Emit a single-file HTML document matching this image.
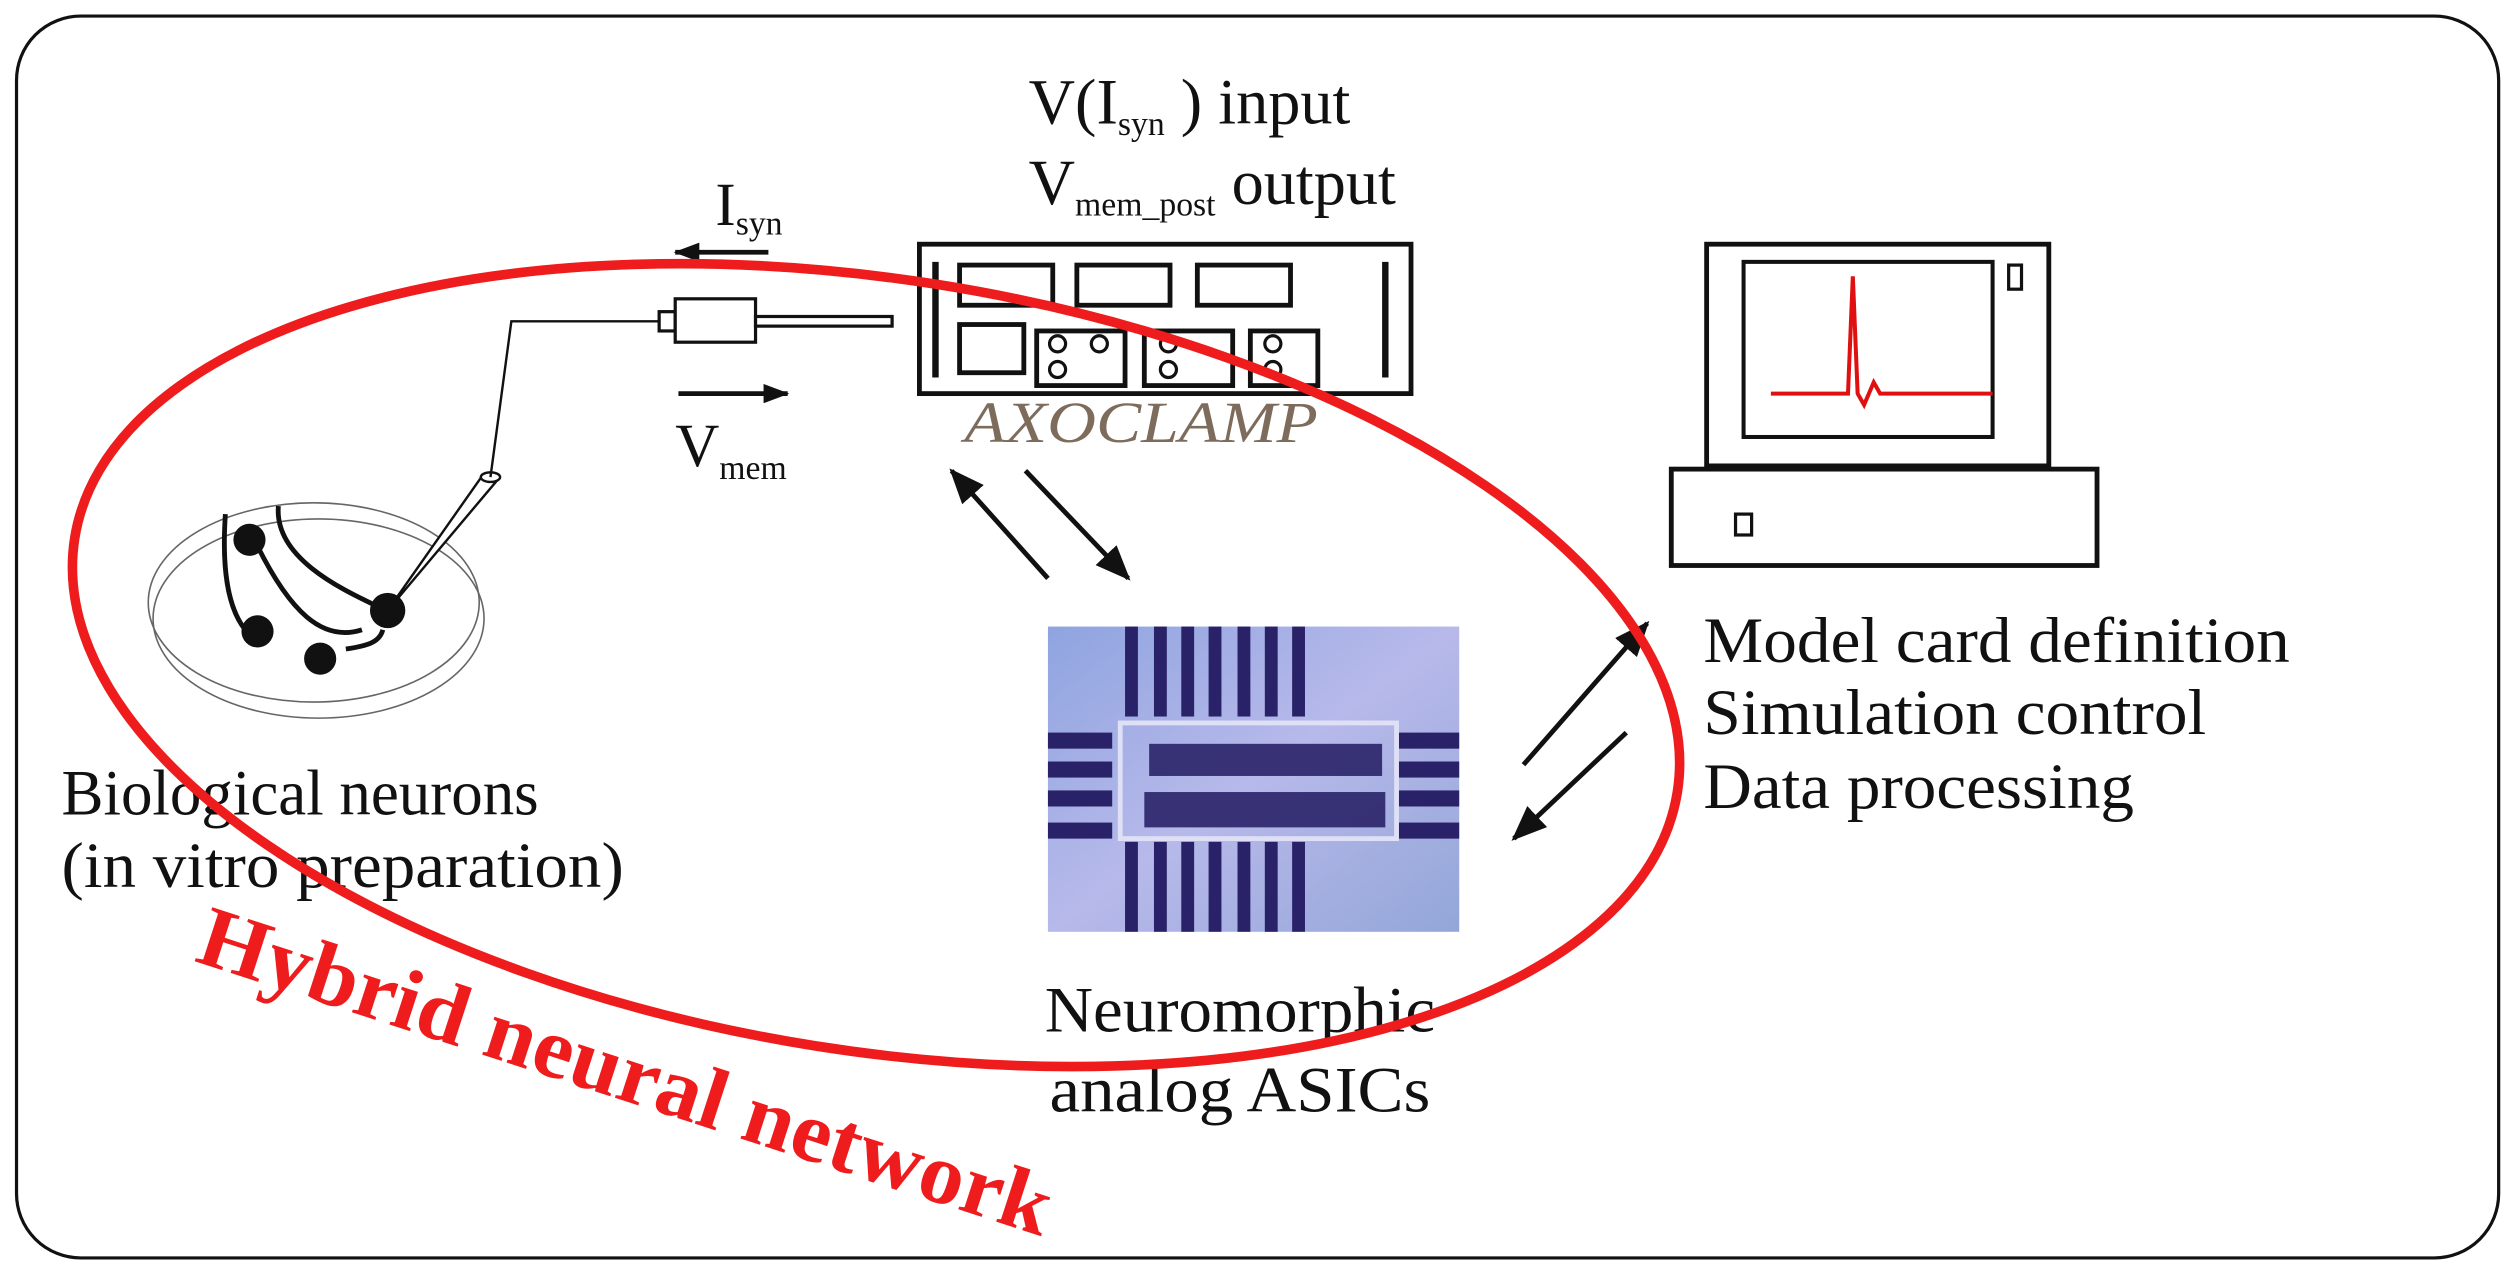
<!DOCTYPE html>
<html><head><meta charset="utf-8"><style>
html,body{margin:0;padding:0;background:#fff;}
svg{display:block;}
text{font-family:"Liberation Serif",serif;fill:#111;}
</style></head><body>
<svg width="2520" height="1274" viewBox="0 0 1568 793" xmlns="http://www.w3.org/2000/svg">
<defs>
<marker id="am" markerWidth="16" markerHeight="12" refX="15" refY="6" orient="auto" markerUnits="userSpaceOnUse"><path d="M0,0 L16,6 L0,12 z" fill="#111"/></marker>
<marker id="ab" markerWidth="22" markerHeight="18" refX="20" refY="9" orient="auto" markerUnits="userSpaceOnUse"><path d="M0,0 L22,9 L0,18 z" fill="#111"/></marker>
<linearGradient id="chip" x1="0" y1="0" x2="1" y2="1"><stop offset="0" stop-color="#8fa4e0"/><stop offset="0.5" stop-color="#b7b9ea"/><stop offset="1" stop-color="#93a6d8"/></linearGradient>
</defs>
<rect x="10" y="10" width="1545" height="773" rx="40" fill="none" stroke="#111" stroke-width="2"/>

<!-- dish -->
<ellipse cx="195" cy="375" rx="103" ry="62" fill="none" stroke="#666" stroke-width="1"/>
<ellipse cx="198" cy="385" rx="103" ry="62" fill="none" stroke="#666" stroke-width="1"/>
<path d="M140,320 C138,350 140,380 155,395" fill="none" stroke="#111" stroke-width="3"/>
<path d="M160,340 C180,380 200,400 225,392" fill="none" stroke="#111" stroke-width="3"/>
<path d="M173,315 C170,350 220,370 240,380" fill="none" stroke="#111" stroke-width="3"/>
<path d="M215,404 C228,402 236,400 238,392" fill="none" stroke="#111" stroke-width="3"/>
<circle cx="155" cy="336" r="10" fill="#111"/>
<circle cx="160" cy="393" r="10" fill="#111"/>
<circle cx="199" cy="410" r="10" fill="#111"/>
<circle cx="241" cy="380" r="11" fill="#111"/>
<!-- pipette -->
<path d="M241,380 L300,296 L310,298 Z" fill="#fff" stroke="#111" stroke-width="1.5"/>
<ellipse cx="305" cy="297" rx="6" ry="3" fill="#fff" stroke="#111" stroke-width="1.5"/>
<polyline points="305,297 318,200 410,200" fill="none" stroke="#111" stroke-width="1.5"/>
<rect x="410" y="194" width="10" height="12" fill="#fff" stroke="#111" stroke-width="2"/>
<rect x="420" y="186" width="50" height="27" fill="#fff" stroke="#111" stroke-width="2"/>
<rect x="470" y="197" width="85" height="6" fill="#fff" stroke="#111" stroke-width="2"/>

<!-- Isyn / Vmem -->
<text x="445" y="140" font-size="38">I<tspan font-size="21" dy="6">syn</tspan></text>
<line x1="478" y1="157" x2="420" y2="157" stroke="#111" stroke-width="3" marker-end="url(#am)"/>
<line x1="422" y1="245" x2="490" y2="245" stroke="#111" stroke-width="3" marker-end="url(#am)"/>
<text x="420" y="290" font-size="38">V<tspan font-size="21" dy="8">mem</tspan></text>

<!-- Axoclamp -->
<text x="640" y="77" font-size="40">V(I<tspan font-size="21" dy="7">syn</tspan><tspan dy="-7"> ) input</tspan></text>
<text x="640" y="127" font-size="40">V<tspan font-size="21" dy="7">mem_post</tspan><tspan dy="-7"> output</tspan></text>
<rect x="572" y="152" width="306" height="93" fill="#fff" stroke="#111" stroke-width="3"/>
<line x1="582" y1="163" x2="582" y2="235" stroke="#111" stroke-width="4"/>
<line x1="862" y1="163" x2="862" y2="235" stroke="#111" stroke-width="4"/>
<rect x="597" y="165" width="58" height="25" fill="none" stroke="#111" stroke-width="3"/>
<rect x="670" y="165" width="58" height="25" fill="none" stroke="#111" stroke-width="3"/>
<rect x="745" y="165" width="58" height="25" fill="none" stroke="#111" stroke-width="3"/>
<rect x="597" y="202" width="40" height="30" fill="none" stroke="#111" stroke-width="3"/>
<rect x="645" y="206" width="55" height="34" fill="none" stroke="#111" stroke-width="3"/>
<rect x="712" y="206" width="55" height="34" fill="none" stroke="#111" stroke-width="3"/>
<rect x="778" y="206" width="42" height="34" fill="none" stroke="#111" stroke-width="3"/>
<g fill="none" stroke="#111" stroke-width="2">
<circle cx="658" cy="214" r="5"/><circle cx="658" cy="230" r="5"/><circle cx="684" cy="214" r="5"/>
<circle cx="727" cy="214" r="5"/><circle cx="727" cy="230" r="5"/>
<circle cx="792" cy="214" r="5"/><circle cx="792" cy="230" r="5"/>
</g>
<text x="600" y="275" font-size="36" font-style="italic" textLength="220" lengthAdjust="spacingAndGlyphs" style="fill:#7d6c5c">AXOCLAMP</text>

<!-- arrows axoclamp-chip -->
<line x1="652" y1="360" x2="592" y2="293" stroke="#111" stroke-width="3" marker-end="url(#ab)"/>
<line x1="638" y1="293" x2="702" y2="360" stroke="#111" stroke-width="3" marker-end="url(#ab)"/>
<!-- arrows chip-computer -->
<line x1="948" y1="476" x2="1025" y2="388" stroke="#111" stroke-width="3" marker-end="url(#ab)"/>
<line x1="1012" y1="456" x2="942" y2="522" stroke="#111" stroke-width="3" marker-end="url(#ab)"/>

<!-- chip -->
<rect x="652" y="390" width="256" height="190" fill="url(#chip)"/>
<g fill="#2a2268">
<rect x="700" y="390" width="8" height="56"/><rect x="718" y="390" width="8" height="56"/><rect x="735" y="390" width="8" height="56"/><rect x="752" y="390" width="8" height="56"/><rect x="770" y="390" width="8" height="56"/><rect x="787" y="390" width="8" height="56"/><rect x="804" y="390" width="8" height="56"/>
<rect x="700" y="524" width="8" height="56"/><rect x="718" y="524" width="8" height="56"/><rect x="735" y="524" width="8" height="56"/><rect x="752" y="524" width="8" height="56"/><rect x="770" y="524" width="8" height="56"/><rect x="787" y="524" width="8" height="56"/><rect x="804" y="524" width="8" height="56"/>
<rect x="652" y="456" width="40" height="10"/><rect x="652" y="474" width="40" height="10"/><rect x="652" y="492" width="40" height="10"/><rect x="652" y="512" width="40" height="10"/>
<rect x="868" y="456" width="40" height="10"/><rect x="868" y="474" width="40" height="10"/><rect x="868" y="492" width="40" height="10"/><rect x="868" y="512" width="40" height="10"/>
<rect x="715" y="463" width="145" height="20" opacity="0.9"/>
<rect x="712" y="493" width="150" height="22" opacity="0.9"/>
</g>
<rect x="697" y="450" width="172" height="72" fill="none" stroke="#dfe0f5" stroke-width="3"/>

<text x="650" y="642" font-size="40" textLength="243" lengthAdjust="spacingAndGlyphs">Neuromorphic</text>
<text x="653" y="692" font-size="40" textLength="237" lengthAdjust="spacingAndGlyphs">analog ASICs</text>

<!-- computer -->
<rect x="1062" y="152" width="213" height="138" fill="#fff" stroke="#111" stroke-width="3"/>
<rect x="1085" y="163" width="155" height="109" fill="#fff" stroke="#111" stroke-width="2.5"/>
<rect x="1250" y="165" width="8" height="15" fill="none" stroke="#111" stroke-width="2"/>
<polyline points="1102,245 1150,245 1153,172 1156,245 1160,252 1166,238 1170,245 1240,245" fill="none" stroke="#e01010" stroke-width="2.5"/>
<rect x="1040" y="292" width="265" height="60" fill="#fff" stroke="#111" stroke-width="3"/>
<rect x="1080" y="320" width="10" height="13" fill="none" stroke="#111" stroke-width="2"/>
<text x="1060" y="412" font-size="40" textLength="365" lengthAdjust="spacingAndGlyphs">Model card definition</text>
<text x="1060" y="457" font-size="40" textLength="313" lengthAdjust="spacingAndGlyphs">Simulation control</text>
<text x="1060" y="503" font-size="40" textLength="268" lengthAdjust="spacingAndGlyphs">Data processing</text>

<text x="38" y="507" font-size="40" textLength="297" lengthAdjust="spacingAndGlyphs">Biological neurons</text>
<text x="38" y="552" font-size="40" textLength="350" lengthAdjust="spacingAndGlyphs">(in vitro preparation)</text>

<!-- red ellipse -->
<ellipse cx="545" cy="414" rx="505" ry="240" transform="rotate(9 545 414)" fill="none" stroke="#ee1c1c" stroke-width="6"/>
<text x="120" y="598" font-size="54" font-weight="bold" transform="rotate(18 120 598)" textLength="555" lengthAdjust="spacingAndGlyphs" style="fill:#ee1c1c">Hybrid neural network</text>
</svg>
</body></html>
